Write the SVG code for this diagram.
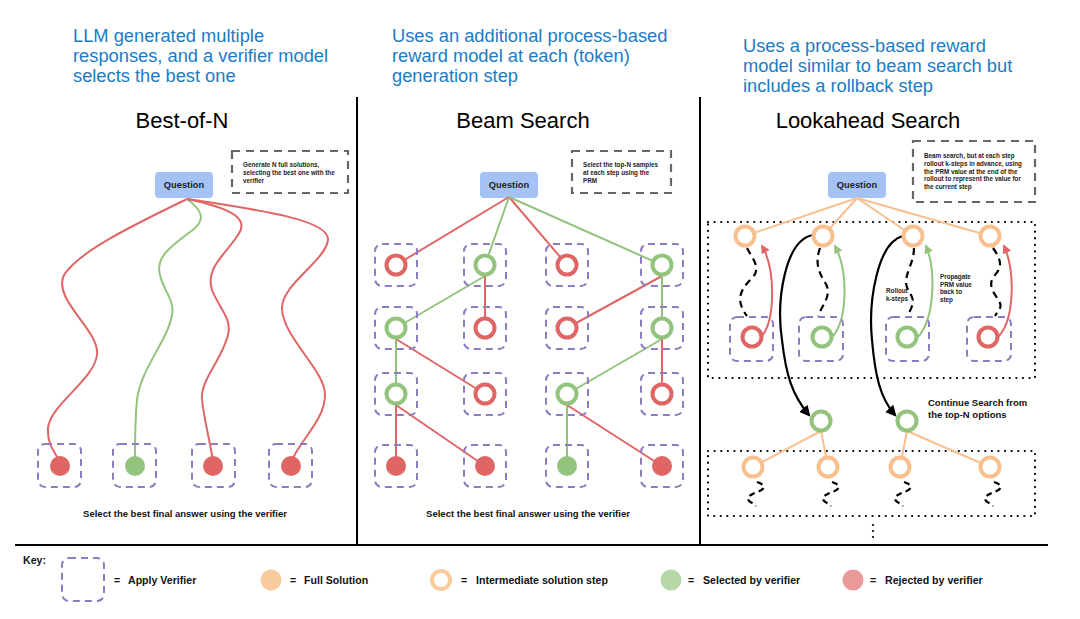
<svg xmlns="http://www.w3.org/2000/svg" width="1080" height="619" viewBox="0 0 1080 619">
<defs>
<style>
.hdr{font-family:"Liberation Sans",Arial,sans-serif;font-size:18.3px;fill:#1c7cc3}
.ttl{font-family:"Liberation Sans",Arial,sans-serif;font-size:22px;fill:#000}
.q{font-family:"Liberation Sans",Arial,sans-serif;font-size:9.3px;font-weight:bold;fill:#222}
.note{font-family:"Liberation Sans",Arial,sans-serif;font-size:6.3px;font-weight:bold;fill:#222}
.cap{font-family:"Liberation Sans",Arial,sans-serif;font-size:9.5px;font-weight:bold;fill:#111}
.key{font-family:"Liberation Sans",Arial,sans-serif;font-size:10.6px;font-weight:bold;fill:#111}
.qbox{fill:#a4c2f4}
.nbox{fill:none;stroke:#666;stroke-width:2.2;stroke-dasharray:8,6}
.ver{fill:none;stroke:#8e7cc3;stroke-width:2;stroke-dasharray:7,5}
.dot{fill:none;stroke:#000;stroke-width:2.2;stroke-dasharray:0.1,6.5;stroke-linecap:round}
.div{stroke:#000;stroke-width:2}
.r{stroke:#e06666;stroke-width:2;fill:none}
.g{stroke:#93c47d;stroke-width:2;fill:none}
.o{stroke:#f9c08f;stroke-width:2;fill:none}
.rr{stroke:#e06666;stroke-width:4;fill:#fff}
.gr{stroke:#93c47d;stroke-width:4;fill:#fff}
.or{stroke:#f9c08f;stroke-width:4;fill:#fff}
.rf{fill:#e06666}
.gf{fill:#93c47d}
.bd{stroke:#000;stroke-width:2.2;fill:none;stroke-dasharray:7,5}
.sq{stroke:#000;stroke-width:2.2;fill:none;stroke-dasharray:6,4}
.bk{stroke:#000;stroke-width:2.2;fill:none}
</style>
<marker id="ar" viewBox="0 0 10 10" refX="8" refY="5" markerWidth="9" markerHeight="9" markerUnits="userSpaceOnUse" orient="auto"><path d="M0,0 L10,5 L0,10 z" fill="#e06666"/></marker>
<marker id="ag" viewBox="0 0 10 10" refX="8" refY="5" markerWidth="9" markerHeight="9" markerUnits="userSpaceOnUse" orient="auto"><path d="M0,0 L10,5 L0,10 z" fill="#93c47d"/></marker>
<marker id="ak" viewBox="0 0 10 10" refX="8" refY="5" markerWidth="11" markerHeight="11" markerUnits="userSpaceOnUse" orient="auto"><path d="M0,0 L10,5 L0,10 z" fill="#000"/></marker>
</defs>
<rect width="1080" height="619" fill="#fff"/>

<g id="headers">
<text class="hdr" x="73" y="42">LLM generated multiple</text>
<text class="hdr" x="73" y="62">responses, and a verifier model</text>
<text class="hdr" x="73" y="82">selects the best one</text>
<text class="hdr" x="392" y="42">Uses an additional process-based</text>
<text class="hdr" x="392" y="62">reward model at each (token)</text>
<text class="hdr" x="392" y="82">generation step</text>
<text class="hdr" x="743" y="52">Uses a process-based reward</text>
<text class="hdr" x="743" y="72">model similar to beam search but</text>
<text class="hdr" x="743" y="92">includes a rollback step</text>
</g>

<g id="frame">
<line class="div" x1="357" y1="97" x2="357" y2="545"/>
<line class="div" x1="700" y1="97" x2="700" y2="545"/>
<line class="div" x1="15" y1="545" x2="1048" y2="545"/>
</g>

<g id="titles">
<text class="ttl" x="182" y="128" text-anchor="middle">Best-of-N</text>
<text class="ttl" x="523" y="128" text-anchor="middle">Beam Search</text>
<text class="ttl" x="868" y="128" text-anchor="middle">Lookahead Search</text>
</g>

<!-- Best-of-N -->
<g id="bon-question"><rect class="qbox" x="155" y="172" width="58" height="26" rx="4"/><text class="q" x="184" y="188" text-anchor="middle">Question</text></g>
<g id="bon-note"><rect class="nbox" x="232" y="151" width="116" height="42"/>
<text class="note" x="243" y="167">Generate N full solutions,</text>
<text class="note" x="243" y="175">selecting the best one with the</text>
<text class="note" x="243" y="183">verifier</text></g>
<g id="bon-connectors">
<path class="r" d="M187,199 C140,222 80,250 64,275 C52,300 100,330 97,355 C94,380 50,405 48,428 C47,445 55,452 60,462"/>
<path class="g" d="M187,199 C205,212 205,222 190,232 C170,247 155,258 160,275 C163,290 175,300 172,315 C168,340 140,370 137,400 C135,420 135,440 135,462"/>
<path class="r" d="M187,199 C230,208 250,218 238,235 C225,255 205,268 212,290 C220,310 232,318 228,335 C222,360 200,380 202,400 C205,425 210,440 213,462"/>
<path class="r" d="M187,199 C260,210 330,220 328,240 C325,262 280,285 282,310 C285,340 325,370 325,395 C325,420 300,440 291,462"/>
</g>
<g id="bon-a1"><rect class="ver" x="38" y="444" width="43" height="43" rx="7"/><circle class="rf" cx="60" cy="466" r="10"/></g>
<g id="bon-a2"><rect class="ver" x="113" y="444" width="43" height="43" rx="7"/><circle class="gf" cx="135" cy="466" r="10"/></g>
<g id="bon-a3"><rect class="ver" x="192" y="444" width="43" height="43" rx="7"/><circle class="rf" cx="213" cy="466" r="10"/></g>
<g id="bon-a4"><rect class="ver" x="269" y="444" width="43" height="43" rx="7"/><circle class="rf" cx="291" cy="466" r="10"/></g>
<text class="cap" x="185" y="517" text-anchor="middle">Select the best final answer using the verifier</text>

<!-- Beam Search -->
<g id="bs-question"><rect class="qbox" x="480" y="172" width="58" height="26" rx="4"/><text class="q" x="509" y="188" text-anchor="middle">Question</text></g>
<g id="bs-note"><rect class="nbox" x="572" y="151" width="99" height="42"/>
<text class="note" x="583" y="167">Select the top-N samples</text>
<text class="note" x="583" y="175">at each step using the</text>
<text class="note" x="583" y="183">PRM</text></g>
<g id="bs-connectors">
<line class="r" x1="509" y1="197" x2="396" y2="265"/>
<line class="g" x1="509" y1="197" x2="485" y2="265"/>
<line class="r" x1="509" y1="197" x2="567" y2="265"/>
<line class="g" x1="509" y1="197" x2="662" y2="265"/>
<line class="g" x1="485" y1="276" x2="396" y2="328"/>
<line class="r" x1="485" y1="276" x2="485" y2="328"/>
<line class="r" x1="662" y1="276" x2="567" y2="328"/>
<line class="g" x1="662" y1="276" x2="662" y2="328"/>
<line class="g" x1="396" y1="339" x2="396" y2="394"/>
<line class="r" x1="396" y1="339" x2="485" y2="394"/>
<line class="g" x1="662" y1="339" x2="567" y2="394"/>
<line class="r" x1="662" y1="339" x2="662" y2="394"/>
<line class="r" x1="396" y1="405" x2="396" y2="466"/>
<line class="r" x1="396" y1="405" x2="485" y2="466"/>
<line class="g" x1="567" y1="405" x2="567" y2="466"/>
<line class="r" x1="567" y1="405" x2="662" y2="466"/>
</g>
<g id="bs-r1c1"><rect class="ver" x="375" y="244" width="42" height="42" rx="7"/><circle class="rr" cx="396" cy="265" r="9.5"/></g>
<g id="bs-r1c2"><rect class="ver" x="464" y="244" width="42" height="42" rx="7"/><circle class="gr" cx="485" cy="265" r="9.5"/></g>
<g id="bs-r1c3"><rect class="ver" x="546" y="244" width="42" height="42" rx="7"/><circle class="rr" cx="567" cy="265" r="9.5"/></g>
<g id="bs-r1c4"><rect class="ver" x="641" y="244" width="42" height="42" rx="7"/><circle class="gr" cx="662" cy="265" r="9.5"/></g>
<g id="bs-r2c1"><rect class="ver" x="375" y="307" width="42" height="42" rx="7"/><circle class="gr" cx="396" cy="328" r="9.5"/></g>
<g id="bs-r2c2"><rect class="ver" x="464" y="307" width="42" height="42" rx="7"/><circle class="rr" cx="485" cy="328" r="9.5"/></g>
<g id="bs-r2c3"><rect class="ver" x="546" y="307" width="42" height="42" rx="7"/><circle class="rr" cx="567" cy="328" r="9.5"/></g>
<g id="bs-r2c4"><rect class="ver" x="641" y="307" width="42" height="42" rx="7"/><circle class="gr" cx="662" cy="328" r="9.5"/></g>
<g id="bs-r3c1"><rect class="ver" x="375" y="373" width="42" height="42" rx="7"/><circle class="gr" cx="396" cy="394" r="9.5"/></g>
<g id="bs-r3c2"><rect class="ver" x="464" y="373" width="42" height="42" rx="7"/><circle class="rr" cx="485" cy="394" r="9.5"/></g>
<g id="bs-r3c3"><rect class="ver" x="546" y="373" width="42" height="42" rx="7"/><circle class="gr" cx="567" cy="394" r="9.5"/></g>
<g id="bs-r3c4"><rect class="ver" x="641" y="373" width="42" height="42" rx="7"/><circle class="rr" cx="662" cy="394" r="9.5"/></g>
<g id="bs-r4c1"><rect class="ver" x="375" y="445" width="42" height="42" rx="7"/><circle class="rf" cx="396" cy="466" r="10"/></g>
<g id="bs-r4c2"><rect class="ver" x="464" y="445" width="42" height="42" rx="7"/><circle class="rf" cx="485" cy="466" r="10"/></g>
<g id="bs-r4c3"><rect class="ver" x="546" y="445" width="42" height="42" rx="7"/><circle class="gf" cx="567" cy="466" r="10"/></g>
<g id="bs-r4c4"><rect class="ver" x="641" y="445" width="42" height="42" rx="7"/><circle class="rf" cx="662" cy="466" r="10"/></g>
<text class="cap" x="528" y="517" text-anchor="middle">Select the best final answer using the verifier</text>

<!-- Lookahead Search -->
<g id="la-question"><rect class="qbox" x="828" y="172" width="58" height="26" rx="4"/><text class="q" x="857" y="188" text-anchor="middle">Question</text></g>
<g id="la-note"><rect class="nbox" x="913" y="141" width="122" height="61"/>
<text class="note" x="924" y="158">Beam search, but at each step</text>
<text class="note" x="924" y="166">rollout k-steps in advance, using</text>
<text class="note" x="924" y="174">the PRM value at the end of the</text>
<text class="note" x="924" y="181">rollout to represent the value for</text>
<text class="note" x="924" y="189">the current step</text></g>
<g id="la-box1"><rect class="dot" x="708" y="222" width="327" height="156"/></g>
<g id="la-box2"><rect class="dot" x="708" y="451" width="327" height="65"/></g>
<g id="la-connectors">
<line class="o" x1="857" y1="198" x2="745" y2="236"/>
<line class="o" x1="857" y1="198" x2="823" y2="236"/>
<line class="o" x1="857" y1="198" x2="913" y2="236"/>
<line class="o" x1="857" y1="198" x2="990" y2="236"/>
<path class="bd" d="M747,248 C752,258 762,268 752,278 C740,290 735,300 747,316"/>
<path class="bd" d="M820,248 C815,262 818,272 826,284 C832,296 822,305 818,316"/>
<path class="bd" d="M914,248 C914,262 906,272 906,282 C906,292 916,296 912,306 C910,312 908,314 907,317"/>
<path class="bd" d="M993,248 C1000,258 1004,266 994,276 C984,290 1004,300 1000,308 C998,312 996,314 995,316"/>
<path class="r" marker-end="url(#ar)" d="M762,336 C775,320 776,270 762,246"/>
<path class="g" marker-end="url(#ag)" d="M833,336 C848,318 848,270 835,246"/>
<path class="g" marker-end="url(#ag)" d="M918,337 C935,318 936,270 926,246"/>
<path class="r" marker-end="url(#ar)" d="M999,336 C1015,318 1015,270 1004,246"/>
<path class="bk" marker-end="url(#ak)" d="M813,235 C785,240 776,300 782,340 C786,375 792,395 809,415"/>
<path class="bk" marker-end="url(#ak)" d="M903,236 C878,242 868,300 872,340 C875,375 880,398 895,415"/>
<line class="o" x1="821" y1="431" x2="753" y2="467"/>
<line class="o" x1="821" y1="431" x2="828" y2="467"/>
<line class="o" x1="907" y1="431" x2="900" y2="467"/>
<line class="o" x1="907" y1="431" x2="990" y2="467"/>
<path class="sq" d="M757,482 C766,485 766,489 757,492 C746,496 746,500 752,503 L756,506"/>
<path class="sq" d="M832,482 C841,485 841,489 832,492 C821,496 821,500 827,503 L831,506"/>
<path class="sq" d="M904,482 C913,485 913,489 904,492 C893,496 893,500 899,503 L903,506"/>
<path class="sq" d="M994,482 C1003,485 1003,489 994,492 C983,496 983,500 989,503 L993,506"/>
</g>
<g id="la-t1"><circle class="or" cx="745" cy="236" r="9.5"/></g>
<g id="la-t2"><circle class="or" cx="823" cy="236" r="9.5"/></g>
<g id="la-t3"><circle class="or" cx="913" cy="236" r="9.5"/></g>
<g id="la-t4"><circle class="or" cx="990" cy="236" r="9.5"/></g>
<g id="la-b1"><rect class="ver" x="730" y="317" width="43" height="44" rx="7"/><circle class="rr" cx="752" cy="337" r="9.5"/></g>
<g id="la-b2"><rect class="ver" x="799" y="317" width="44" height="44" rx="7"/><circle class="gr" cx="822" cy="337" r="9.5"/></g>
<g id="la-b3"><rect class="ver" x="886" y="317" width="43" height="44" rx="7"/><circle class="gr" cx="907" cy="337" r="9.5"/></g>
<g id="la-b4"><rect class="ver" x="967" y="317" width="44" height="44" rx="7"/><circle class="rr" cx="988" cy="337" r="9.5"/></g>
<g id="la-labels">
<text class="note" x="886" y="293">Rollout</text>
<text class="note" x="886" y="301">k-steps</text>
<text class="note" x="940" y="279">Propagate</text>
<text class="note" x="940" y="287">PRM value</text>
<text class="note" x="940" y="294">back to</text>
<text class="note" x="940" y="302">step</text>
<text class="cap" x="928" y="406">Continue Search from</text>
<text class="cap" x="928" y="418">the top-N options</text>
</g>
<g id="la-g1"><circle class="gr" cx="821" cy="421" r="9.5"/></g>
<g id="la-g2"><circle class="gr" cx="907" cy="421" r="9.5"/></g>
<g id="la-o1"><circle class="or" cx="753" cy="467" r="9.5"/></g>
<g id="la-o2"><circle class="or" cx="828" cy="467" r="9.5"/></g>
<g id="la-o3"><circle class="or" cx="900" cy="467" r="9.5"/></g>
<g id="la-o4"><circle class="or" cx="990" cy="467" r="9.5"/></g>
<g id="la-more"><circle cx="873" cy="525" r="1.1" fill="#000"/><circle cx="873" cy="531" r="1.1" fill="#000"/><circle cx="873" cy="537" r="1.1" fill="#000"/></g>

<!-- Key -->
<g id="key">
<text class="key" x="23" y="564">Key:</text>
<rect class="ver" x="62" y="558" width="42" height="43" rx="7"/>
<text class="key" x="114" y="584">=</text><text class="key" x="128" y="584">Apply Verifier</text>
<circle cx="271" cy="580" r="10.5" fill="#f9cb9c"/>
<text class="key" x="290" y="584">=</text><text class="key" x="304" y="584">Full Solution</text>
<circle cx="441" cy="580" r="9" fill="#fff" stroke="#f9cb9c" stroke-width="4"/>
<text class="key" x="461" y="584">=</text><text class="key" x="476" y="584">Intermediate solution step</text>
<circle cx="671" cy="580" r="10.5" fill="#b6d7a8"/>
<text class="key" x="688" y="584">=</text><text class="key" x="703" y="584">Selected by verifier</text>
<circle cx="853" cy="580" r="10.5" fill="#ea9999"/>
<text class="key" x="870" y="584">=</text><text class="key" x="885" y="584">Rejected by verifier</text>
</g>
</svg>
